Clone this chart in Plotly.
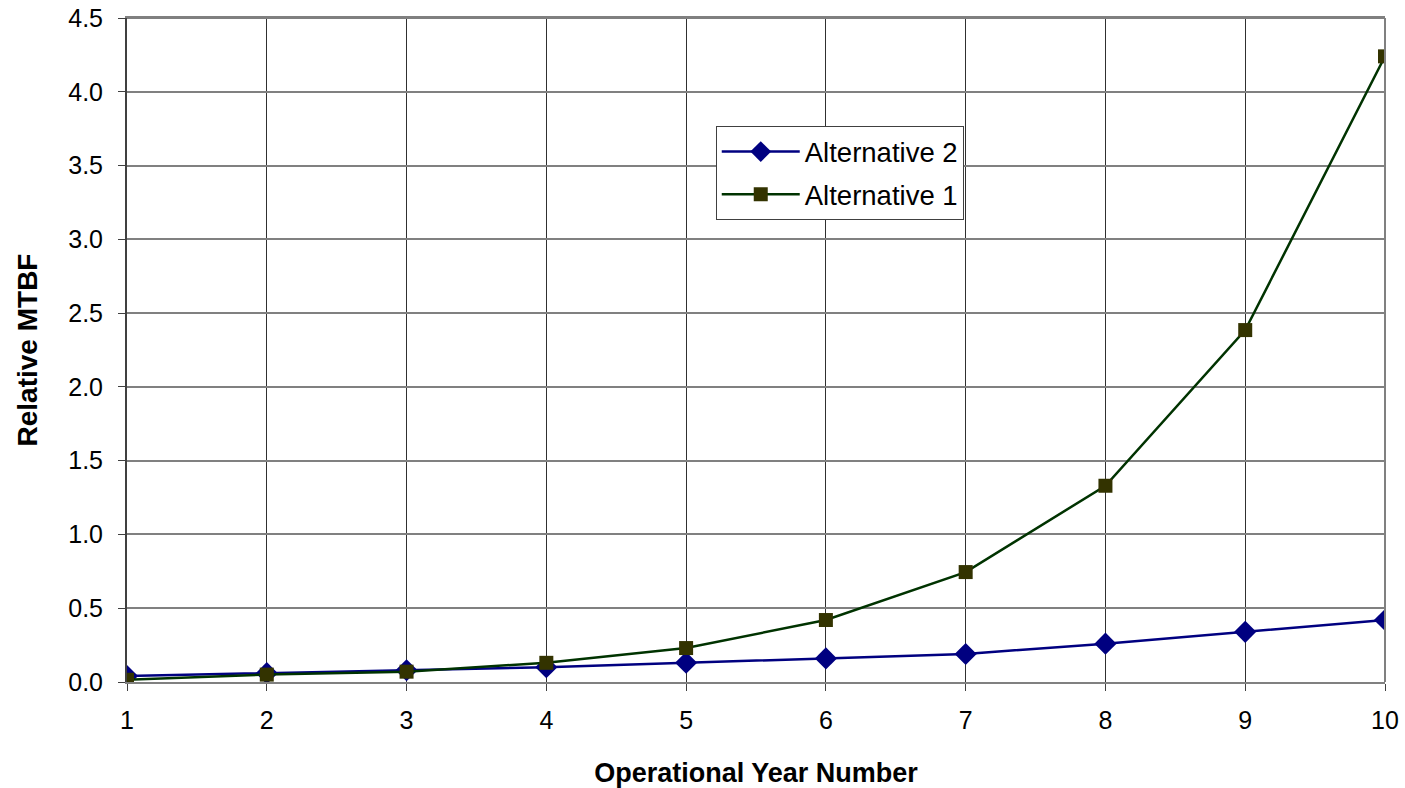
import plotly.graph_objects as go

years = [1, 2, 3, 4, 5, 6, 7, 8, 9, 10]
alt2 = [0.04, 0.06, 0.08, 0.10, 0.13, 0.16, 0.19, 0.26, 0.34, 0.42]
alt1 = [0.015, 0.05, 0.07, 0.13, 0.23, 0.42, 0.745, 1.33, 2.385, 4.24]
y_ticks = [0, 0.5, 1.0, 1.5, 2.0, 2.5, 3.0, 3.5, 4.0, 4.5]

fig = go.Figure()
fig.add_trace(go.Scatter(
    x=years, y=alt2, name="Alternative 2", mode="lines+markers", legendgroup="a2",
    line=dict(color="#000080", width=2.5),
    marker=dict(symbol="diamond", size=17, color="#000080"),
))
fig.add_trace(go.Scatter(
    x=years, y=alt1, name="Alternative 1", mode="lines+markers", legendgroup="a1",
    line=dict(color="#003300", width=2.5),
    marker=dict(symbol="square", size=14, color="#333300"),
))

font = "Liberation Sans, Arial, sans-serif"
fig.update_layout(
    width=1405, height=788,
    margin=dict(l=127, r=20, t=18, b=106),
    paper_bgcolor="white", plot_bgcolor="white",
    font=dict(family=font, size=25, color="black"),
    showlegend=True,
    legend=dict(
        x=0.468, y=0.837, xanchor="left", yanchor="top",
        bgcolor="white", bordercolor="#404040", borderwidth=1,
        font=dict(size=27.5), tracegroupgap=4, itemwidth=78,
    ),
    xaxis=dict(
        range=[1, 10], tickvals=years, showgrid=True, gridcolor="#303030", gridwidth=1,
        ticks="outside", ticklen=7, tickcolor="#404040", ticklabelstandoff=8,
        showline=True, linecolor="#808080", linewidth=2, mirror=True,
        zeroline=False, automargin=False,
        title=dict(text="<b>Operational Year Number</b>", font=dict(size=27), standoff=36),
    ),
    yaxis=dict(
        range=[0, 4.5], tickvals=y_ticks, tickformat=".1f",
        showgrid=True, gridcolor="#808080", gridwidth=1.5,
        ticks="outside", ticklen=7, tickcolor="#404040", ticklabelstandoff=10,
        showline=True, linecolor="#404040", linewidth=2, mirror=False,
        zeroline=False, automargin=False,
        title=dict(text="<b>Relative MTBF</b>", font=dict(size=28), standoff=22),
    ),
)
fig.add_shape(type="line", xref="paper", yref="paper", x0=1, x1=1, y0=0, y1=1,
              line=dict(color="#808080", width=2))
fig.add_shape(type="line", xref="paper", yref="paper", x0=0, x1=1, y0=1, y1=1,
              line=dict(color="#808080", width=2))

fig.write_html("out.html", config={"displayModeBar": False},
               post_script="document.body.style.margin='0';")
